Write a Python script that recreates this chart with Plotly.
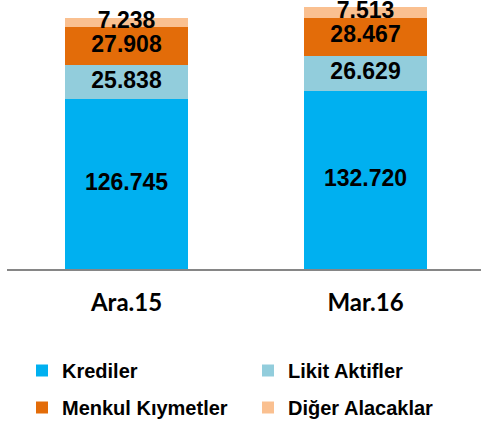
import plotly.graph_objects as go
import numpy as np

categories = ["Ara.15", "Mar.16"]
krediler = [126.745, 132.720]
likit = [25.838, 26.629]
menkul = [27.908, 28.467]
diger = [7.238, 7.513]

series = [
    ("Krediler", krediler, "#00B0F0"),
    ("Likit Aktifler", likit, "#92CDDC"),
    ("Menkul Kıymetler", menkul, "#E36C09"),
    ("Diğer Alacaklar", diger, "#FAC090"),
]
# legend placement (left px, top px) for each series entry
legend_pos = [(22, 351), (248, 351), (22, 388), (248, 388)]

def fmt(v):
    return f"{v:.3f}"

fig = go.Figure()
base = np.zeros(len(categories))
label_x, label_y, label_t = [], [], []
legend_font = dict(family="Arial, Liberation Sans", size=20, color="#000000", weight="bold")
layout_legends = {}
for k, (name, vals, color) in enumerate(series):
    vals = np.array(vals)
    lg = "legend" if k == 0 else f"legend{k+1}"
    fig.add_trace(go.Bar(
        x=categories, y=vals, name=name, marker=dict(color=color, line=dict(width=0)),
        width=0.515, legend=lg, hoverinfo="skip",
    ))
    lx, ly = legend_pos[k]
    layout_legends[lg] = dict(orientation="h", xref="container", yref="container",
                              x=lx / 481, y=1 - ly / 425, xanchor="left", yanchor="top",
                              font=legend_font, bgcolor="rgba(0,0,0,0)")
    for i, c in enumerate(categories):
        label_x.append(c)
        label_y.append(base[i] + vals[i] / 2)
        label_t.append(fmt(vals[i]))
    base = base + vals

fig.add_trace(go.Scatter(
    x=label_x, y=label_y, text=label_t, mode="text", showlegend=False,
    textfont=dict(family="Arial, Liberation Sans", size=23, color="#000000", weight="bold"),
    hoverinfo="skip", cliponaxis=False,
))

fig.update_layout(
    width=481, height=425,
    margin=dict(l=7, r=0, t=0, b=156, autoexpand=False),
    barmode="stack",
    plot_bgcolor="white", paper_bgcolor="white",
    xaxis=dict(range=[-0.5, 1.483], showline=True, linecolor="#868686", linewidth=2,
               showgrid=False, ticks="", zeroline=False,
               tickfont=dict(family="Lato", size=24, color="#000000", weight="bold"),
               ticklabelstandoff=11),
    yaxis=dict(range=[0, 200.9], visible=False, showgrid=False, zeroline=False),
    showlegend=True,
    **layout_legends,
)

fig.write_html("out.html", config={"displayModeBar": False},
               post_script="document.body.style.margin='0';")
